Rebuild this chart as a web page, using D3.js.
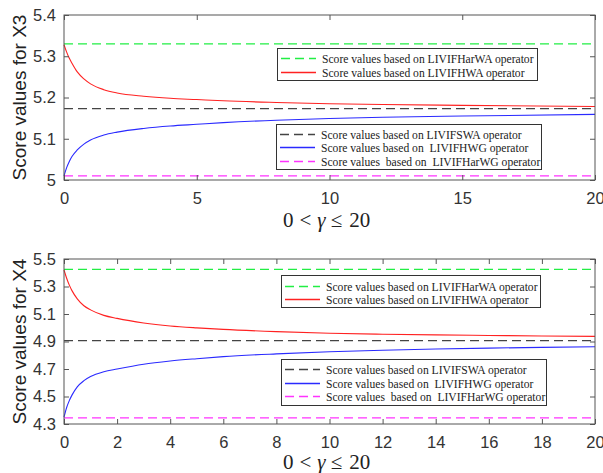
<!DOCTYPE html>
<html>
<head>
<meta charset="utf-8">
<script src="https://cdn.jsdelivr.net/npm/d3@7"></script>
<style>
  body { margin: 0; background: #fff; }
  svg { display: block; }
  .leg text { white-space: pre; }
</style>
</head>
<body>
<div id="chart"></div>
<script>
// gamma sample points (x axis)
const gammaX3 = [0, 0.1, 0.2, 0.3, 0.5, 0.75, 1, 1.5, 2, 3, 4, 5, 6, 8, 10, 12, 15, 20];
const hwaX3   = [5.328, 5.31, 5.295, 5.283, 5.262, 5.245, 5.233, 5.219, 5.211, 5.203, 5.198, 5.195, 5.192, 5.188, 5.185, 5.183, 5.181, 5.178];
const hwgX3   = [5.01, 5.03, 5.045, 5.057, 5.073, 5.087, 5.097, 5.109, 5.116, 5.125, 5.131, 5.135, 5.139, 5.145, 5.149, 5.152, 5.155, 5.159];
const constX3 = { harwa: 5.33, swa: 5.173, harwg: 5.01 };

const gammaX4 = [0, 0.1, 0.2, 0.3, 0.5, 0.75, 1, 1.5, 2, 3, 4, 5, 6, 8, 10, 12, 14, 16, 18, 20];
const hwaX4   = [5.42, 5.36, 5.31, 5.27, 5.21, 5.16, 5.13, 5.09, 5.068, 5.035, 5.013, 4.999, 4.988, 4.972, 4.96, 4.953, 4.948, 4.944, 4.94, 4.937];
const hwgX4   = [4.35, 4.42, 4.47, 4.51, 4.57, 4.615, 4.645, 4.68, 4.70, 4.735, 4.758, 4.775, 4.79, 4.81, 4.825, 4.836, 4.845, 4.852, 4.857, 4.862];
const constX4 = { harwa: 5.425, swa: 4.906, harwg: 4.344 };

const xTicksX3 = [0, 5, 10, 15, 20];
const yTicksX3 = [5, 5.1, 5.2, 5.3, 5.4];
const xTicksX4 = [0, 2, 4, 6, 8, 10, 12, 14, 16, 18, 20];
const yTicksX4 = [4.3, 4.5, 4.7, 4.9, 5.1, 5.3, 5.5];

const legendTop = [
    { key: "harwa", label: "Score values based on LIVIFHarWA operator" },
    { key: "hwa",   label: "Score values based on LIVIFHWA operator" }
];
const legendBottom = [
    { key: "swa",   label: "Score values based on LIVIFSWA operator" },
    { key: "hwg",   label: "Score values based on  LIVIFHWG operator" },
    { key: "harwg", label: "Score values  based on  LIVIFHarWG operator" }
];

// x label pieces: latex-ish "0 < γ ≤ 20"
const xLabelParts = [
    { t: "0", italic: false, dx: 0 },
    { t: "<", italic: false, dx: 6 },
    { t: "γ", italic: true, dx: 6 },
    { t: "≤", italic: false, dx: 5 },
    { t: "20", italic: false, dx: 7 }
];

const styles = {
    harwa: { color: "#22ee44", dash: "9,5" },
    hwa:   { color: "#ff2222", dash: null },
    swa:   { color: "#444444", dash: "9,5" },
    hwg:   { color: "#2a2aff", dash: null },
    harwg: { color: "#ff33ff", dash: "9,5" }
};

const svg = d3.select("#chart").append("svg")
    .attr("width", 603)
    .attr("height", 473);

function drawPanel(cfg) {
    const left = 64, right = 595;
    const top = cfg.top, bottom = cfg.bottom;

    const xscale = d3.scaleLinear().domain([0, 20]).range([left, right]);
    const yscale = d3.scaleLinear().domain(cfg.yDomain).range([bottom, top]);

    const g = svg.append("g").attr("class", "panel");

    // curves
    const line = d3.line()
        .x(d => xscale(d[0]))
        .y(d => yscale(d[1]))
        .curve(d3.curveMonotoneX);

    const hline = (key, v) => {
        g.append("line")
            .attr("x1", xscale(0)).attr("x2", xscale(20))
            .attr("y1", yscale(v)).attr("y2", yscale(v))
            .attr("stroke", styles[key].color)
            .attr("stroke-width", 1.2)
            .attr("stroke-dasharray", styles[key].dash);
    };
    hline("harwa", cfg.consts.harwa);
    hline("swa", cfg.consts.swa);
    hline("harwg", cfg.consts.harwg);

    g.append("path")
        .datum(cfg.gamma.map((x, i) => [x, cfg.hwa[i]]))
        .attr("fill", "none")
        .attr("stroke", styles.hwa.color)
        .attr("stroke-width", 1.1)
        .attr("d", line);

    g.append("path")
        .datum(cfg.gamma.map((x, i) => [x, cfg.hwg[i]]))
        .attr("fill", "none")
        .attr("stroke", styles.hwg.color)
        .attr("stroke-width", 1.1)
        .attr("d", line);

    // axes, inward ticks on all four sides (matlab box)
    const axisFont = g => g.selectAll("text")
        .attr("font-family", "Liberation Sans, Arial, sans-serif")
        .attr("font-size", "16.5px")
        .attr("fill", "#333");

    const xAxis = d3.axisBottom(xscale).tickValues(cfg.xTicks).tickSizeInner(-5).tickSizeOuter(0).tickPadding(12).tickFormat(d3.format("d"));
    const yAxis = d3.axisLeft(yscale).tickValues(cfg.yTicks).tickSizeInner(-5).tickSizeOuter(0).tickPadding(8).tickFormat(d => d3.format("")(d));
    const xAxisTop = d3.axisTop(xscale).tickValues(cfg.xTicks).tickSizeInner(-5).tickSizeOuter(0).tickFormat("");
    const yAxisRight = d3.axisRight(yscale).tickValues(cfg.yTicks).tickSizeInner(-5).tickSizeOuter(0).tickFormat("");

    [[xAxis, `translate(0,${bottom})`], [yAxis, `translate(${left},0)`],
     [xAxisTop, `translate(0,${top})`], [yAxisRight, `translate(${right},0)`]].forEach(([ax, tr]) => {
        const ga = g.append("g").attr("transform", tr).call(ax).call(axisFont);
        ga.select(".domain").remove();
        ga.selectAll("line").attr("stroke", "#555");
    });

    g.append("rect")
        .attr("x", left).attr("y", top)
        .attr("width", right - left).attr("height", bottom - top)
        .attr("fill", "none")
        .attr("stroke", "#555")
        .attr("stroke-width", 1);

    // y label
    g.append("text")
        .attr("transform", `translate(26,${(top + bottom) / 2}) rotate(-90)`)
        .attr("text-anchor", "middle")
        .attr("font-family", "Liberation Sans, Arial, sans-serif")
        .attr("font-size", "19px")
        .attr("fill", "#222")
        .text(cfg.yLabel);

    // x label
    const xl = g.append("text")
        .attr("x", 283).attr("y", cfg.xLabelY)
        .attr("font-family", "Liberation Serif, Times New Roman, serif")
        .attr("font-size", "21px")
        .attr("fill", "#222");
    xLabelParts.forEach(p => {
        xl.append("tspan")
            .attr("dx", p.dx)
            .attr("font-style", p.italic ? "italic" : null)
            .text(p.t);
    });

    // legends
    cfg.legends.forEach(lg => {
        const lgG = g.append("g").attr("class", "leg");
        lgG.append("rect")
            .attr("x", lg.x + 0.5).attr("y", lg.y + 0.5)
            .attr("width", lg.w).attr("height", lg.h)
            .attr("fill", "#fff")
            .attr("stroke", "#333")
            .attr("stroke-width", 1);
        lg.items.forEach((it, i) => {
            const yy = Math.round(lg.y + lg.firstRow + i * lg.rowStep) + 0.5;
            lgG.append("line")
                .attr("x1", lg.x + 4).attr("x2", lg.x + 39)
                .attr("y1", yy).attr("y2", yy)
                .attr("stroke", styles[it.key].color)
                .attr("stroke-width", 1.3)
                .attr("stroke-dasharray", styles[it.key].dash);
            lgG.append("text")
                .attr("x", lg.x + 45).attr("y", yy + 4)
                .attr("font-family", "Liberation Serif, Times New Roman, serif")
                .attr("font-size", "11.6px")
                .attr("fill", "#222")
                .attr("xml:space", "preserve")
                .text(it.label);
        });
    });
}

drawPanel({
    top: 15, bottom: 180,
    yDomain: [5, 5.4],
    xTicks: xTicksX3, yTicks: yTicksX3,
    gamma: gammaX3, hwa: hwaX3, hwg: hwgX3, consts: constX3,
    yLabel: "Score values for X3",
    xLabelY: 227,
    legends: [
        { x: 277, y: 48, w: 260, h: 32, firstRow: 10, rowStep: 13.5, items: legendTop },
        { x: 276, y: 124, w: 265, h: 45, firstRow: 9.5, rowStep: 13.5, items: legendBottom }
    ]
});

drawPanel({
    top: 259, bottom: 424,
    yDomain: [4.3, 5.5],
    xTicks: xTicksX4, yTicks: yTicksX4,
    gamma: gammaX4, hwa: hwaX4, hwg: hwgX4, consts: constX4,
    yLabel: "Score values for X4",
    xLabelY: 469,
    legends: [
        { x: 281, y: 275, w: 259, h: 32, firstRow: 10.5, rowStep: 13.5, items: legendTop },
        { x: 281, y: 359, w: 265, h: 46, firstRow: 10, rowStep: 13.5, items: legendBottom }
    ]
});
</script>
</body>
</html>
